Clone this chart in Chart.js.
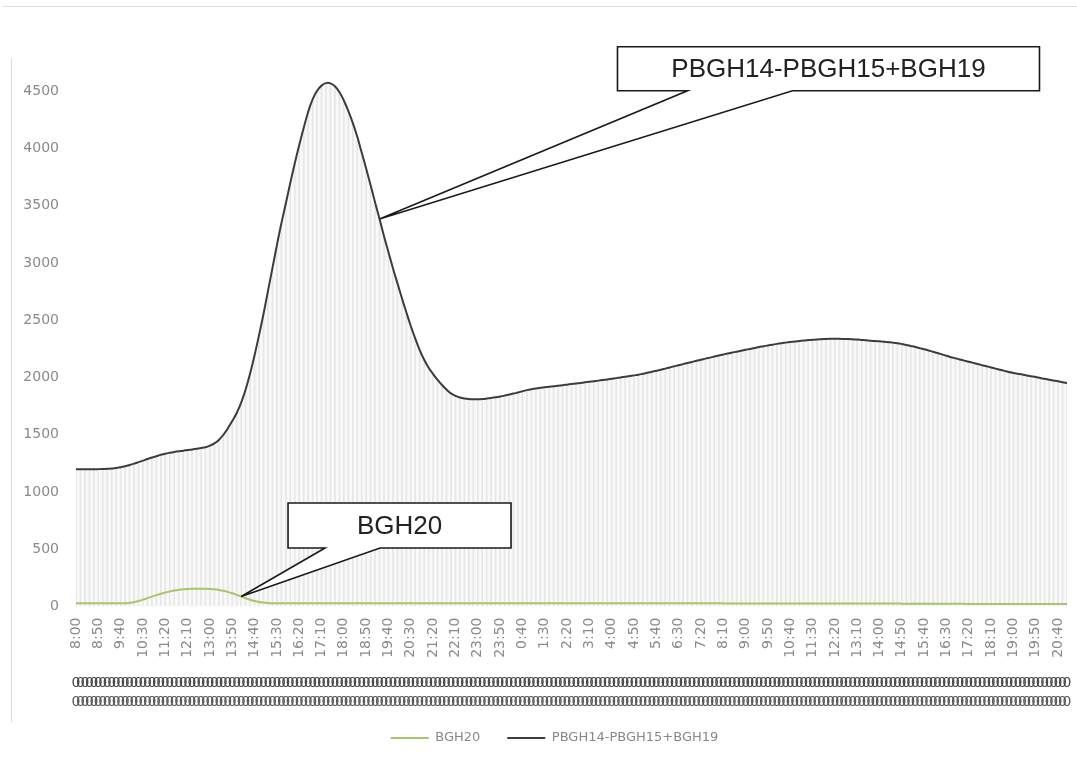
<!DOCTYPE html>
<html>
<head>
<meta charset="utf-8">
<script src="https://cdn.jsdelivr.net/npm/chart.js@4.4.1/dist/chart.umd.min.js"></script>
<style>
  html, body { margin: 0; padding: 0; background: #ffffff; }
  #wrap { width: 1077px; height: 757px; position: relative; }
</style>
</head>
<body>
<div id="wrap"><canvas id="c" width="1077" height="757"></canvas></div>
<script>
// Ten-minute readings from 8:00 through 21:00 of the following day
const startMinute = 8 * 60;
const stepMinutes = 10;
const pointCount = 223;
const timeLabels = [];
for (let i = 0; i < pointCount; i++) {
  const m = startMinute + i * stepMinutes;
  const h = Math.floor(m / 60) % 24;
  const mm = m % 60;
  timeLabels.push(h + ':' + (mm < 10 ? '0' : '') + mm);
}
const labelEvery = 5;

const yTicks = [0, 500, 1000, 1500, 2000, 2500, 3000, 3500, 4000, 4500];

// BGH20
const bgh20 = [
  28, 28, 28, 28, 28, 28, 28, 28, 28, 28, 28, 28,
  32, 38, 48, 60, 73, 86, 99, 111, 122, 131, 139, 145, 150, 153, 155, 156, 156, 155,
  153, 150, 145, 138, 128, 116, 102, 87, 72, 59, 48, 40, 34, 30, 28,
  28, 28, 28, 28, 28, 28, 28, 28, 28, 28, 28, 28, 28, 28, 28, 28, 28, 28, 28, 28,
  28, 28, 28, 28, 28, 28, 28, 28, 28, 28, 28, 28, 28, 28, 28, 28, 28, 28, 28, 28,
  28, 28, 28, 28, 28, 28, 28, 28, 28, 28, 28, 28, 28, 28, 28, 28, 28, 28, 28, 28,
  28, 28, 28, 28, 28, 28, 28, 28, 28, 28, 28, 28, 28, 28, 28, 28, 28, 28, 28, 28,
  28, 28, 28, 28, 28, 28, 28, 28, 28, 28, 28, 28, 28, 28, 28, 28, 28, 28, 28, 28,
  27, 27, 27, 27, 27, 27, 27, 27, 27, 27, 27, 27, 27, 27, 27, 27, 27, 27, 27, 27,
  26, 26, 26, 26, 26, 26, 26, 26, 26, 26, 26, 26, 26, 26, 26, 26, 26, 26, 26, 26,
  25, 25, 25, 25, 25, 24, 24, 24, 24, 24, 23, 23, 23, 23, 23, 22, 22, 22, 22, 22,
  22, 22, 22, 22, 22, 22, 22, 22, 22, 22, 22, 22, 22, 22, 22, 22, 22, 22
];

// PBGH14-PBGH15+BGH19
const pbghNet = [
  1200, 1200, 1200, 1200, 1200, 1200, 1201, 1203, 1206, 1210, 1216,
  1225, 1236, 1248, 1261, 1274, 1288, 1301, 1313, 1325,
  1335, 1343, 1350, 1356, 1361, 1367, 1372, 1378, 1384, 1391,
  1405, 1425, 1455, 1500, 1555, 1620,
  1690, 1780, 1895, 2035, 2195, 2370,
  2555, 2755, 2955, 3155, 3345, 3520,
  3700, 3870, 4030, 4180, 4320, 4430,
  4505, 4550, 4572, 4570, 4545, 4495,
  4420, 4330, 4225, 4105, 3965, 3825,
  3680, 3530, 3385, 3235, 3095, 2955,
  2825, 2695, 2570, 2450, 2340, 2240,
  2155, 2085, 2030, 1980, 1935, 1895,
  1862, 1840, 1826, 1817, 1812, 1810, 1810,
  1812, 1816, 1821, 1827, 1834, 1842, 1851, 1860, 1870, 1880, 1890,
  1898, 1904, 1910, 1915, 1920, 1924, 1929, 1933, 1938, 1943, 1948, 1953, 1958, 1963,
  1968, 1973, 1978, 1983, 1989, 1995, 2001, 2007, 2013, 2019, 2025,
  2033, 2041, 2050, 2059, 2068, 2078, 2088, 2098, 2108,
  2117, 2127, 2136, 2146, 2155, 2165, 2174, 2183, 2192, 2201, 2210, 2218,
  2226, 2234, 2242, 2250, 2258, 2266, 2273, 2280, 2287, 2294, 2300,
  2305, 2310, 2315, 2319, 2323, 2327, 2330, 2333, 2335,
  2337, 2338, 2338, 2338, 2337, 2336, 2334, 2332, 2329, 2326,
  2322, 2319, 2316, 2313, 2309, 2305, 2300,
  2293, 2285, 2276, 2267, 2257, 2247, 2236, 2225, 2214, 2202, 2190, 2178,
  2168, 2158, 2148, 2138, 2128, 2118, 2108, 2098, 2088, 2078, 2068, 2058, 2048,
  2040, 2033, 2026, 2018, 2011, 2004, 1996, 1989, 1981, 1974, 1967, 1959, 1952
];

// Two rows of secondary category labels under the time axis
const subRowA = timeLabels.map(() => '0');
const subRowB = timeLabels.map(() => '0');

// Callout boxes: anchored in data space, pointing at a sample of a series
const callouts = [
  { text: 'PBGH14-PBGH15+BGH19', series: pbghNet, tipIndex: 68, boxIndex: 121.3, boxValue: 4890, w: 422, h: 44, base: [70, 175] },
  { text: 'BGH20', series: bgh20, tipIndex: 37, boxIndex: 47.5, boxValue: 904, w: 223, h: 45, base: [37, 92] }
];

const tickColor = '#8a8a8a';
const legendShiftX = 21;
const legendShiftY = -2.5;

const framePlugin = {
  id: 'frame',
  beforeDraw(chart) {
    const ctx = chart.ctx;
    ctx.save();
    ctx.fillStyle = '#ffffff';
    ctx.fillRect(0, 0, chart.width, chart.height);
    ctx.strokeStyle = '#dcdcdc';
    ctx.lineWidth = 1;
    ctx.beginPath();
    ctx.moveTo(3, 6.5); ctx.lineTo(chart.width, 6.5);
    ctx.moveTo(11.5, 58); ctx.lineTo(11.5, 722);
    ctx.stroke();
    ctx.restore();
  }
};

// Nudge the legend row a little right of centre and up
const legendOffsetPlugin = {
  id: 'legendOffset',
  afterLayout(chart) {
    const lg = chart.legend;
    if (lg) {
      lg.left += legendShiftX;
      lg.right += legendShiftX;
      lg.top += legendShiftY;
      lg.bottom += legendShiftY;
    }
  }
};

const calloutPlugin = {
  id: 'callouts',
  afterDraw(chart) {
    const ctx = chart.ctx;
    const xs = chart.scales.x, ys = chart.scales.y;
    ctx.save();
    callouts.forEach(c => {
      const left = xs.getPixelForValue(c.boxIndex);
      const top = ys.getPixelForValue(c.boxValue);
      const right = left + c.w, bottom = top + c.h;
      const tipX = xs.getPixelForValue(c.tipIndex);
      const tipY = ys.getPixelForValue(c.series[c.tipIndex]);
      ctx.beginPath();
      ctx.moveTo(left, top);
      ctx.lineTo(right, top);
      ctx.lineTo(right, bottom);
      ctx.lineTo(left + c.base[1], bottom);
      ctx.lineTo(tipX, tipY);
      ctx.lineTo(left + c.base[0], bottom);
      ctx.lineTo(left, bottom);
      ctx.closePath();
      ctx.fillStyle = '#ffffff';
      ctx.fill();
      ctx.strokeStyle = '#1a1a1a';
      ctx.lineWidth = 1.6;
      ctx.lineJoin = 'miter';
      ctx.stroke();
      ctx.fillStyle = '#222222';
      ctx.font = '26px "Liberation Sans"';
      ctx.textAlign = 'center';
      ctx.textBaseline = 'middle';
      ctx.fillText(c.text, (left + right) / 2, (top + bottom) / 2 + 1);
    });
    ctx.restore();
  }
};

// Horizontal axes: fixed band height, no extra side padding
const fitBand = h => s => { s.height = h; s.paddingLeft = 0; s.paddingRight = 0; };

Chart.defaults.font.family = '"DejaVu Sans"';

new Chart(document.getElementById('c'), {
  type: 'line',
  data: {
    labels: timeLabels,
    datasets: [
      {
        label: 'BGH20',
        data: bgh20,
        borderColor: '#a9c46c',
        borderWidth: 2,
        pointRadius: 0,
        tension: 0.4,
        fill: false,
        order: 1
      },
      {
        label: 'PBGH14-PBGH15+BGH19',
        data: pbghNet,
        borderColor: '#3c3c3c',
        borderWidth: 2,
        pointRadius: 0,
        tension: 0.4,
        fill: 'origin',
        backgroundColor: 'rgba(0,0,0,0.022)',
        order: 2
      },
      {
        type: 'bar',
        label: 'drop',
        data: pbghNet,
        backgroundColor: '#ededed',
        barThickness: 1,
        order: 5
      }
    ]
  },
  options: {
    responsive: false,
    animation: false,
    layout: { padding: { top: 57, left: 0, right: 10, bottom: 0 } },
    plugins: {
      tooltip: { enabled: false },
      legend: {
        position: 'bottom',
        align: 'center',
        labels: {
          filter: item => item.text !== 'drop',
          usePointStyle: true,
          pointStyle: 'line',
          pointStyleWidth: 38,
          padding: 27,
          color: '#888888',
          font: { size: 13 }
        }
      }
    },
    scales: {
      x: {
        type: 'category',
        offset: false,
        grid: { display: false, drawTicks: false },
        border: { display: false },
        ticks: {
          autoSkip: false,
          minRotation: 90,
          maxRotation: 90,
          padding: 11,
          color: tickColor,
          font: { size: 14 },
          callback: (v, i) => (i % labelEvery === 0 ? timeLabels[i] : '')
        },
        afterFit: fitBand(57)
      },
      x2: {
        type: 'category',
        position: 'bottom',
        labels: subRowA,
        offset: false,
        display: true,
        grid: { display: false, drawTicks: false },
        border: { display: false },
        ticks: { autoSkip: false, maxRotation: 0, minRotation: 0, padding: 11, color: '#4a4a4a', font: { size: 14 } },
        afterFit: fitBand(24)
      },
      x3: {
        type: 'category',
        position: 'bottom',
        labels: subRowB,
        offset: false,
        display: true,
        grid: { display: false, drawTicks: false },
        border: { display: false },
        ticks: { autoSkip: false, maxRotation: 0, minRotation: 0, padding: 6, color: '#5a5a5a', font: { size: 14 } },
        afterFit: fitBand(19.5)
      },
      y: {
        min: 0,
        max: 4800,
        grid: { display: false, drawTicks: false },
        border: { display: false },
        ticks: {
          stepSize: 500,
          includeBounds: false,
          padding: 17,
          color: tickColor,
          font: { size: 14 },
          callback: v => String(v)
        },
        afterBuildTicks: s => { s.ticks = yTicks.map(v => ({ value: v })); },
        afterFit: s => { s.width = 76; }
      }
    }
  },
  plugins: [framePlugin, legendOffsetPlugin, calloutPlugin]
});
</script>
</body>
</html>
